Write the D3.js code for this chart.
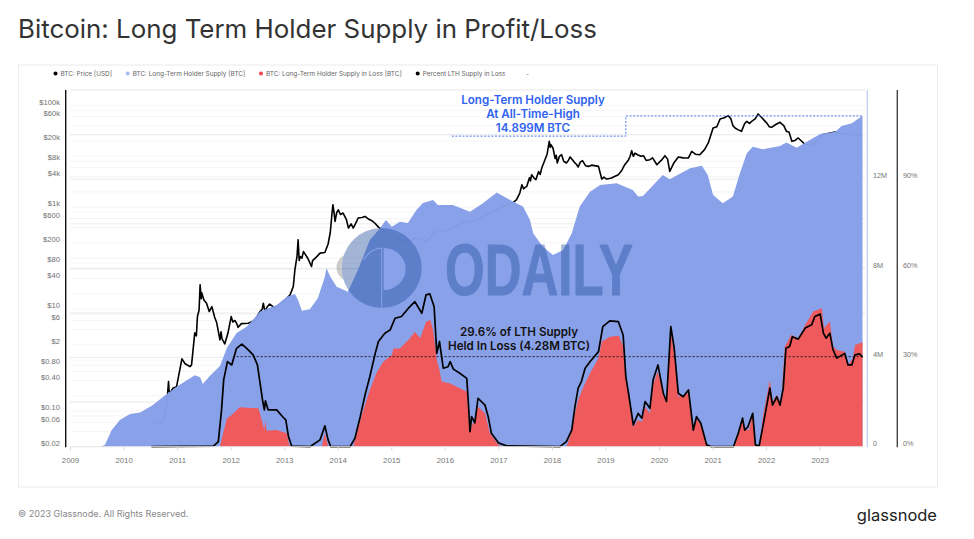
<!DOCTYPE html>
<html>
<head>
<meta charset="utf-8">
<script src="https://cdn.jsdelivr.net/npm/d3@7"></script>
<style>
  html, body { margin: 0; background: #fff; }
  svg { display: block; font-family: Inter, "Noto Sans", sans-serif; }
</style>
</head>
<body>
<svg width="974" height="539"></svg>
<script>
// all series are [year, value]
const priceData = [[2010.55,.0585],[2010.74,.062],[2010.81,.145],[2010.84,.378],[2010.85,.25],[2010.87,.227],[2010.92,.28],[2010.99,.302],[2011.09,1.06],[2011.15,.85],[2011.24,.746],[2011.27,.805],[2011.33,3.43],[2011.36,3.0],[2011.38,7.16],[2011.41,9.5],[2011.43,30],[2011.45,16],[2011.46,21],[2011.5,15.2],[2011.55,13.1],[2011.6,9],[2011.65,11.2],[2011.7,7],[2011.74,5.4],[2011.8,2.5],[2011.82,3.6],[2011.84,2.6],[2011.89,2.08],[2011.95,3.4],[2012.01,7.16],[2012.04,5.6],[2012.08,6],[2012.11,5.3],[2012.14,4.4],[2012.2,5.2],[2012.33,5.3],[2012.45,6],[2012.55,9],[2012.59,10],[2012.61,13.1],[2012.64,9],[2012.68,11],[2012.73,12.6],[2012.83,10.5],[2012.98,13.7],[2013.11,19.1],[2013.17,27.8],[2013.2,59.3],[2013.24,110],[2013.26,230],[2013.28,90],[2013.3,108],[2013.33,100],[2013.36,135],[2013.44,100],[2013.51,68.7],[2013.53,90],[2013.6,105],[2013.67,126],[2013.76,129],[2013.82,190],[2013.86,316],[2013.89,700],[2013.91,1122],[2013.93,800],[2013.95,526],[2013.98,780],[2014.01,893],[2014.05,720],[2014.1,769],[2014.16,580],[2014.2,391],[2014.25,470],[2014.29,391],[2014.35,520],[2014.38,614],[2014.45,630],[2014.51,661],[2014.57,590],[2014.63,551],[2014.7,480],[2014.76,408],[2015.03,267],[2015.29,201],[2015.47,252],[2015.66,213],[2015.85,362],[2016.03,335],[2016.34,497],[2016.59,569],[2016.97,893],[2017.28,1244],[2017.34,1406],[2017.4,1900],[2017.44,2768],[2017.47,2300],[2017.5,2450],[2017.53,2564],[2017.58,3800],[2017.6,3300],[2017.62,4354],[2017.67,3700],[2017.7,3477],[2017.75,5000],[2017.78,4400],[2017.81,5900],[2017.87,8574],[2017.91,11000],[2017.95,19630],[2017.97,15000],[2017.98,17000],[2018.02,14560],[2018.06,9000],[2018.08,10500],[2018.1,7400],[2018.14,10000],[2018.18,10770],[2018.22,8000],[2018.27,7400],[2018.31,8400],[2018.34,9700],[2018.42,7600],[2018.46,6900],[2018.49,6170],[2018.53,7700],[2018.57,8200],[2018.63,6500],[2018.68,6340],[2018.74,6700],[2018.87,6340],[2018.93,3580],[2018.97,3900],[2019.02,3580],[2019.1,3700],[2019.24,4350],[2019.3,5200],[2019.36,6840],[2019.43,8500],[2019.46,10000],[2019.49,12890],[2019.52,10000],[2019.55,11500],[2019.6,10700],[2019.66,10000],[2019.71,10280],[2019.76,8300],[2019.83,8570],[2019.88,9300],[2019.96,6840],[2020.05,8500],[2020.11,10280],[2020.16,8800],[2020.2,5060],[2020.28,7500],[2020.36,9700],[2020.45,9300],[2020.55,9270],[2020.61,12500],[2020.68,11000],[2020.76,10700],[2020.85,13500],[2020.92,18270],[2021.01,36000],[2021.08,38000],[2021.14,54100],[2021.22,57000],[2021.29,62800],[2021.34,55000],[2021.38,40000],[2021.42,36000],[2021.48,33000],[2021.54,30900],[2021.6,44000],[2021.64,48500],[2021.69,44000],[2021.73,48500],[2021.8,55000],[2021.85,67800],[2021.92,57000],[2022.01,45200],[2022.06,38000],[2022.1,37000],[2022.18,42000],[2022.26,46400],[2022.33,40000],[2022.38,30900],[2022.43,29500],[2022.48,19650],[2022.54,20500],[2022.6,22900],[2022.67,19500],[2022.73,16900],[2022.87,16900],[2023.06,26600],[2023.29,30100],[2023.5,27000],[2023.78,26600]];

const supplyData = [[2009,0],[2009.56,0],[2009.65,.08],[2009.78,.75],[2009.93,1.2],[2010.12,1.47],[2010.31,1.53],[2010.55,1.87],[2010.74,2.24],[2010.99,2.69],[2011.33,3.2],[2011.43,3.11],[2011.48,2.81],[2011.61,3.17],[2011.8,3.62],[2011.93,4.43],[2012.11,5.1],[2012.3,5.38],[2012.55,6.06],[2012.86,6.36],[2013.05,6.73],[2013.2,6.85],[2013.26,6.58],[2013.33,6.1],[2013.48,6.16],[2013.63,6.67],[2013.76,7.63],[2013.79,8.0],[2013.86,7.63],[2013.98,7.18],[2014.19,6.95],[2014.38,7.95],[2014.6,9.27],[2014.79,9.8],[2014.9,10.17],[2015.01,9.87],[2015.16,10.09],[2015.31,10.03],[2015.47,10.62],[2015.59,10.93],[2015.78,11.07],[2015.87,10.84],[2016.15,10.84],[2016.47,10.54],[2016.71,10.92],[2016.97,11.4],[2017.27,11],[2017.46,10.77],[2017.59,10.17],[2017.65,9.58],[2017.83,8.97],[2018.02,8.6],[2018.21,8.82],[2018.37,9.57],[2018.52,10.77],[2018.71,11.44],[2018.9,11.74],[2019.21,11.82],[2019.51,11.52],[2019.61,11.22],[2019.7,11.25],[2020.07,12.19],[2020.2,12.0],[2020.58,12.49],[2020.8,12.6],[2020.91,12.19],[2021.01,11.29],[2021.19,10.92],[2021.38,11.22],[2021.51,12.27],[2021.64,13.16],[2021.75,13.46],[2021.94,13.34],[2022.26,13.49],[2022.38,13.64],[2022.57,13.41],[2022.76,13.68],[2023.01,14.03],[2023.29,14.13],[2023.41,14.39],[2023.6,14.51],[2023.8,14.84]];

const lossData = [[2009,0],[2011.8,0],[2011.86,.6],[2011.93,1.27],[2012.02,1.42],[2012.17,1.77],[2012.52,1.72],[2012.58,1.2],[2012.63,.75],[2012.65,1.2],[2012.67,.72],[2012.86,.75],[2013.05,.6],[2013.09,.08],[2013.14,0],[2013.7,0],[2013.76,.6],[2013.82,0],[2014.29,0],[2014.38,.83],[2014.47,1.57],[2014.6,2.54],[2014.72,3.29],[2014.85,3.81],[2015.01,4.11],[2015.04,4.41],[2015.16,4.41],[2015.35,4.86],[2015.44,5.16],[2015.54,4.86],[2015.65,5.61],[2015.73,5.68],[2015.78,5.23],[2015.85,3.89],[2015.9,3.44],[2015.94,2.92],[2016.1,2.84],[2016.28,2.62],[2016.41,2.47],[2016.46,.75],[2016.53,1.05],[2016.62,1.79],[2016.75,1.5],[2016.84,.6],[2017,.08],[2017.09,0],[2018.27,0],[2018.34,.45],[2018.43,1.5],[2018.49,2.1],[2018.59,2.69],[2018.71,3.29],[2018.87,3.97],[2018.93,4.71],[2019.08,4.93],[2019.25,4.98],[2019.33,4.49],[2019.38,2.99],[2019.43,2.24],[2019.52,.9],[2019.61,1.2],[2019.68,1.12],[2019.74,1.79],[2019.83,1.5],[2019.89,2.77],[2019.97,3.36],[2020.05,2.77],[2020.13,2.02],[2020.22,5.16],[2020.28,4.19],[2020.36,2.24],[2020.55,2.4],[2020.63,.67],[2020.7,1.27],[2020.8,.9],[2020.9,.03],[2021.39,0],[2021.48,.52],[2021.56,1.2],[2021.6,.75],[2021.68,.75],[2021.75,1.5],[2021.79,.08],[2021.87,0],[2021.95,1.5],[2022.07,2.99],[2022.12,2.02],[2022.2,2.32],[2022.28,1.95],[2022.35,4.49],[2022.47,5.01],[2022.6,4.86],[2022.73,5.46],[2022.88,6.06],[2023.04,6.21],[2023.08,5.31],[2023.13,5.46],[2023.19,5.61],[2023.25,4.49],[2023.32,4.34],[2023.47,4.26],[2023.53,3.67],[2023.62,3.97],[2023.66,4.56],[2023.8,4.68]];

const percentData = [[2010.52,0],[2011.68,.2],[2011.77,1.7],[2011.83,12.4],[2011.87,22.5],[2011.94,28.6],[2012.02,27.5],[2012.11,33.1],[2012.21,34.5],[2012.3,33.1],[2012.42,30.9],[2012.5,27.5],[2012.55,21.3],[2012.6,15.2],[2012.63,12.4],[2012.65,15.4],[2012.7,12.4],[2012.86,12.4],[2012.98,9.9],[2013.03,9],[2013.08,3.4],[2013.14,.2],[2013.48,0],[2013.67,2.3],[2013.76,7],[2013.82,2.3],[2013.87,0],[2014.23,0],[2014.32,2.8],[2014.42,10.1],[2014.51,17.4],[2014.6,23.6],[2014.7,31.4],[2014.76,35.4],[2014.88,38.2],[2014.98,39.3],[2015.07,43.2],[2015.19,43.8],[2015.32,46.6],[2015.44,48.8],[2015.57,44.9],[2015.65,51.1],[2015.72,51.4],[2015.8,47.1],[2015.85,31.4],[2015.9,35.4],[2015.97,26.4],[2016.06,26.9],[2016.1,28.6],[2016.16,26.1],[2016.28,24.7],[2016.41,23],[2016.44,14.6],[2016.47,5.05],[2016.5,10.1],[2016.56,8],[2016.62,16.3],[2016.75,14],[2016.81,10.1],[2016.87,4.5],[2017,1.3],[2017.15,.3],[2018.15,0],[2018.27,1.7],[2018.37,5.6],[2018.43,13.5],[2018.49,19.7],[2018.55,21.9],[2018.62,26.4],[2018.71,28.6],[2018.87,32],[2018.95,40.4],[2019.08,42.3],[2019.24,42.1],[2019.33,37.6],[2019.38,23.6],[2019.43,18],[2019.52,7.3],[2019.61,11.2],[2019.68,9.6],[2019.74,15.2],[2019.83,12.9],[2019.89,22.5],[2019.98,27.5],[2020.08,18],[2020.14,15.2],[2020.22,40.4],[2020.28,33.7],[2020.36,18],[2020.45,16.8],[2020.55,19.1],[2020.64,5.6],[2020.7,10.1],[2020.78,7.9],[2020.89,.6],[2020.98,0],[2021.39,0],[2021.48,4.5],[2021.56,9.6],[2021.6,5.6],[2021.66,6.7],[2021.75,11.2],[2021.8,.6],[2021.87,.2],[2021.98,10.7],[2022.07,19.7],[2022.12,14],[2022.2,16.8],[2022.26,14],[2022.32,19.7],[2022.37,33.1],[2022.44,33.7],[2022.49,37],[2022.6,36.2],[2022.73,39.9],[2022.85,41],[2022.91,43.8],[2023.01,44.6],[2023.07,38.2],[2023.12,36.5],[2023.19,38.2],[2023.25,32.6],[2023.32,29.8],[2023.47,31.4],[2023.53,27.5],[2023.6,27.5],[2023.66,30.9],[2023.75,31.2],[2023.8,30.1]];

const yearTicks = d3.range(2009, 2024);
const priceTicks = [100000, 60000, 20000, 8000, 4000, 1000, 600, 200, 80, 40, 10, 6, 2, .8, .4, .1, .06, .02];
const supplyTicks = [0, 4, 8, 12];
const percentTicks = [0, 30, 60, 90];
const gridSteps = [1, 2, 4, 6, 8];
const supplyGrid = [2, 4, 6, 8, 10, 12, 14, 16];

const legendItems = [
  { label: 'BTC: Price [USD]', color: '#000', dot: 55.5 },
  { label: 'BTC: Long-Term Holder Supply [BTC]', color: '#a9bcf5', dot: 127.7 },
  { label: 'BTC: Long-Term Holder Supply in Loss [BTC]', color: '#f0484c', dot: 261 },
  { label: 'Percent LTH Supply in Loss', color: '#000', dot: 417.7 }
];

const svg = d3.select('svg');
const plotTop = 90, plotBottom = 446.7;

const x = d3.scaleLinear().domain([2009, 2023.8]).range([70, 862.5]);
const yPrice = d3.scaleLog().domain([.02, 200000]).range([plotBottom, plotTop]);
const ySupply = d3.scaleLinear().domain([0, 16]).range([plotBottom, plotTop]);
const yPercent = d3.scaleLinear().domain([0, 120]).range([plotBottom, plotTop]);

// header and card
svg.append('text').attr('x', 18).attr('y', 38)
  .attr('font-size', 25.9).attr('fill', '#333').text('Bitcoin: Long Term Holder Supply in Profit/Loss');

svg.append('rect').attr('x', 18.5).attr('y', 65).attr('width', 919).attr('height', 422)
  .attr('fill', '#fff').attr('stroke', '#ececec');

// legend
legendItems.forEach(d => {
  svg.append('circle').attr('cx', d.dot).attr('cy', 73.5).attr('r', 2).attr('fill', d.color);
  svg.append('text').attr('x', d.dot + 5).attr('y', 75.8)
    .attr('font-size', 6.4).attr('fill', '#666').text(d.label);
});
svg.append('text').attr('x', 526).attr('y', 75.8).attr('font-size', 6.4).attr('fill', '#777').text('-');

// grid
const grid = svg.append('g').attr('stroke', '#f3f3f3').attr('stroke-width', .8);
d3.range(-2, 6).forEach(e => gridSteps.forEach(s => {
  const v = s * Math.pow(10, e);
  if (v < .02 || v > 200000) return;
  grid.append('line').attr('x1', 70).attr('x2', 865).attr('y1', yPrice(v)).attr('y2', yPrice(v));
}));
supplyGrid.forEach(v => {
  grid.append('line').attr('x1', 70).attr('x2', 865).attr('y1', ySupply(v)).attr('y2', ySupply(v))
    .attr('stroke', '#ececec').attr('stroke-width', 1.1);
});

// price runs behind the supply area
const priceLine = d3.line().x(d => x(d[0])).y(d => yPrice(d[1]));
svg.append('path').attr('d', priceLine(priceData))
  .attr('fill', 'none').attr('stroke', '#000').attr('stroke-width', 1.6).attr('stroke-linejoin', 'round');

const supplyArea = d3.area().x(d => x(d[0])).y0(plotBottom).y1(d => ySupply(d[1]));
svg.append('path').attr('d', supplyArea(supplyData)).attr('fill', '#869fe8').attr('fill-opacity', .975);

svg.append('path').attr('d', supplyArea(lossData)).attr('fill', '#ef5a5c');

// annotation lines
const supplyLine = d3.line().x(d => x(d[0])).y(d => ySupply(d[1]));
const athSteps = [[2016.13, 13.93], [2019.38, 13.93], [2019.38, 14.84], [2023.8, 14.84]];
svg.append('path').attr('d', supplyLine(athSteps))
  .attr('fill', 'none').attr('stroke', '#3b6cf0').attr('stroke-width', .9).attr('stroke-dasharray', '2,1.6');

const percentLine = d3.line().x(d => x(d[0])).y(d => yPercent(d[1]));
const lossLevel = [[2012.11, 30.3], [2023.8, 30.3]];
svg.append('path').attr('d', percentLine(lossLevel))
  .attr('fill', 'none').attr('stroke', '#111').attr('stroke-width', .8).attr('stroke-dasharray', '2.2,1.8');

svg.append('path').attr('d', percentLine(percentData))
  .attr('fill', 'none').attr('stroke', '#000').attr('stroke-width', 1.7).attr('stroke-linejoin', 'round');

// axes
const styleAxis = (g, fill, size) => {
  g.select('.domain').remove();
  g.selectAll('.tick line').remove();
  g.selectAll('text').attr('font-size', size).attr('fill', fill);
};

const priceFormat = v => v >= 1000 ? `$${v / 1000}k` : v < 1 ? `$${v.toFixed(2)}` : `$${v}`;
svg.append('g').attr('transform', 'translate(66,0)')
  .call(d3.axisLeft(yPrice).tickValues(priceTicks).tickFormat(priceFormat).tickSize(0).tickPadding(6))
  .call(styleAxis, '#6f6f6f', 7.6)
  .selectAll('text').attr('dy', '-0.17em');

svg.append('g').attr('transform', 'translate(868,0)')
  .call(d3.axisRight(ySupply).tickValues(supplyTicks).tickFormat(v => v ? `${v}M` : '0').tickSize(0).tickPadding(5))
  .call(styleAxis, '#777', 7.3)
  .selectAll('text').attr('dy', '-0.17em');

svg.append('g').attr('transform', 'translate(898,0)')
  .call(d3.axisRight(yPercent).tickValues(percentTicks).tickFormat(v => `${v}%`).tickSize(0).tickPadding(5))
  .call(styleAxis, '#777', 7.3)
  .selectAll('text').attr('dy', '-0.17em');

const xAxis = svg.append('g').attr('transform', `translate(0,${plotBottom})`)
  .call(d3.axisBottom(x).tickValues(yearTicks).tickFormat(d3.format('d')).tickSize(4).tickPadding(7));
xAxis.select('.domain').remove();
xAxis.selectAll('.tick line').attr('stroke', '#ddd');
xAxis.selectAll('text').attr('font-size', 7.8).attr('fill', '#777');

svg.append('line').attr('x1', 70).attr('x2', 862.5).attr('y1', plotBottom).attr('y2', plotBottom).attr('stroke', '#e8e8e8');

svg.append('line').attr('x1', 65.7).attr('x2', 65.7).attr('y1', plotTop).attr('y2', plotBottom + .5).attr('stroke', '#111').attr('stroke-width', 1.4);
svg.append('line').attr('x1', 867.3).attr('x2', 867.3).attr('y1', plotTop).attr('y2', plotBottom + .5).attr('stroke', '#c6d3f6').attr('stroke-width', 1.4);
svg.append('line').attr('x1', 897.3).attr('x2', 897.3).attr('y1', plotTop).attr('y2', plotBottom + .5).attr('stroke', '#444').attr('stroke-width', 1.4);

// callouts
const blueNote = ['Long-Term Holder Supply', 'At All-Time-High', '14.899M BTC'];
blueNote.forEach((t, i) => {
  svg.append('text').attr('x', 533).attr('y', 104 + i * 14).attr('text-anchor', 'middle')
    .attr('font-size', 11.6).attr('font-weight', 600).attr('fill', '#2f62f0').text(t);
});
const blackNote = ['29.6% of LTH Supply', 'Held In Loss (4.28M BTC)'];
blackNote.forEach((t, i) => {
  svg.append('text').attr('x', 519).attr('y', 336 + i * 14).attr('text-anchor', 'middle')
    .attr('font-size', 11.6).attr('font-weight', 600).attr('fill', '#111').text(t);
});

// watermark
const mark = svg.append('g').attr('opacity', .42);
mark.append('circle').attr('cx', 350).attr('cy', 267.5).attr('r', 11).attr('fill', 'none').attr('stroke', '#8a8a8a').attr('stroke-width', 5);
mark.append('path').attr('fill-rule', 'evenodd').attr('fill', '#23509f')
  .attr('d', d3.arc()({ innerRadius: 0, outerRadius: 40, startAngle: 0, endAngle: 2 * Math.PI }) +
    ' M2,-20 A22,21 0 0 1 2,22 Z')
  .attr('transform', 'translate(381.7,268)');
svg.append('path').attr('transform', 'translate(381.7,268)')
  .attr('d', 'M-18,-8 Q-12,-19 0,-20 L0,40')
  .attr('fill', 'none').attr('stroke', '#869fe8').attr('stroke-width', 1.1);
svg.append('text').attr('x', 445).attr('y', 295).attr('textLength', 188).attr('lengthAdjust', 'spacingAndGlyphs')
  .attr('font-family', '"Liberation Sans Narrow", "Liberation Sans"').attr('font-weight', 700)
  .attr('font-size', 72).attr('fill', '#23509f').attr('stroke', '#23509f').attr('stroke-width', 1).attr('opacity', .42).text('ODAILY');

// footer
svg.append('text').attr('x', 18).attr('y', 517).attr('font-size', 9).attr('fill', '#888').text('© 2023 Glassnode. All Rights Reserved.');
svg.append('text').attr('x', 937).attr('y', 521).attr('text-anchor', 'end').attr('font-size', 16.5).attr('font-weight', 400).attr('fill', '#222').text('glassnode');
</script>
</body>
</html>
